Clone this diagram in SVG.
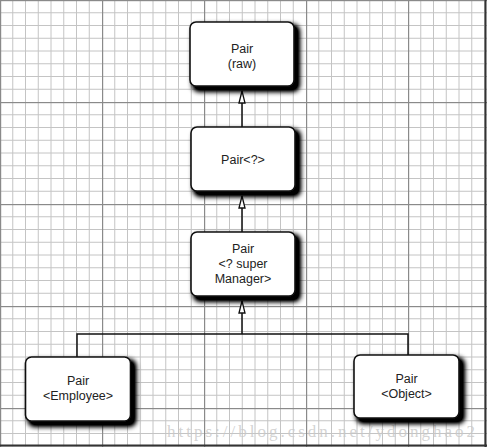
<svg xmlns="http://www.w3.org/2000/svg" width="487" height="447" viewBox="0 0 487 447">
  <style>
    .box { fill: #ffffff; stroke: #111111; stroke-width: 1.6; filter: url(#shadow); }
    .lbl { font-family: "Liberation Sans", Arial, sans-serif; font-size: 12.5px; fill: #222222; text-anchor: middle; }
    .conn { fill: none; stroke: #111111; stroke-width: 1.5; }
    .wm { font-family: "Liberation Serif", "Times New Roman", serif; font-size: 17px; fill: #c8c8c8; fill-opacity: 0.8; }
  </style>
  <defs>
    <pattern id="grid" patternUnits="userSpaceOnUse" x="0" y="0" width="102" height="102">
      <g stroke="#c4c4c4" stroke-width="1">
        <line x1="12.75" y1="0" x2="12.75" y2="102"/>
        <line x1="25.5" y1="0" x2="25.5" y2="102"/>
        <line x1="38.25" y1="0" x2="38.25" y2="102"/>
        <line x1="51" y1="0" x2="51" y2="102"/>
        <line x1="63.75" y1="0" x2="63.75" y2="102"/>
        <line x1="76.5" y1="0" x2="76.5" y2="102"/>
        <line x1="89.25" y1="0" x2="89.25" y2="102"/>
        <line x1="0" y1="12.75" x2="102" y2="12.75"/>
        <line x1="0" y1="25.5" x2="102" y2="25.5"/>
        <line x1="0" y1="38.25" x2="102" y2="38.25"/>
        <line x1="0" y1="51" x2="102" y2="51"/>
        <line x1="0" y1="63.75" x2="102" y2="63.75"/>
        <line x1="0" y1="76.5" x2="102" y2="76.5"/>
        <line x1="0" y1="89.25" x2="102" y2="89.25"/>
      </g>
      <rect x="0" y="0" width="1.2" height="102" fill="#8a8a8a"/>
      <rect x="0" y="0" width="102" height="1.2" fill="#8a8a8a"/>
    </pattern>
    <filter id="shadow" x="-20%" y="-20%" width="150%" height="150%">
      <feMorphology in="SourceAlpha" operator="dilate" radius="1" result="d"/>
      <feGaussianBlur in="d" stdDeviation="2.6"/>
      <feOffset dx="4" dy="4" result="b"/>
      <feComponentTransfer in="b" result="s"><feFuncA type="linear" slope="1.3"/></feComponentTransfer>
      <feMerge><feMergeNode in="s"/><feMergeNode in="SourceGraphic"/></feMerge>
    </filter>
    <marker id="tri" viewBox="0 0 14 8" refX="13" refY="4" markerWidth="14" markerHeight="8" markerUnits="userSpaceOnUse" orient="auto">
      <path d="M1,1 L13,4 L1,7 z" fill="#ffffff" stroke="#111111" stroke-width="1.3"/>
    </marker>
  </defs>

  <rect x="0" y="0" width="487" height="447" fill="#ffffff"/>
  <rect x="0" y="0" width="487" height="447" fill="url(#grid)"/>
  <line x1="485.5" y1="0" x2="485.5" y2="447" stroke="#333333" stroke-width="2"/>
  <line x1="0" y1="445.5" x2="487" y2="445.5" stroke="#333333" stroke-width="2"/>

  <text class="wm" x="167" y="437" textLength="308" lengthAdjust="spacing">https://blog.csdn.net/ydonghao2</text>

  <g id="connectors">
    <line class="conn" x1="242" y1="127" x2="242" y2="91" marker-end="url(#tri)"/>
    <line class="conn" x1="242" y1="232" x2="242" y2="196" marker-end="url(#tri)"/>
    <line class="conn" x1="242" y1="334" x2="242" y2="301" marker-end="url(#tri)"/>
    <polyline class="conn" points="77,357 77,334 408,334 408,355"/>
  </g>

  <g id="pair-raw">
    <rect class="box" x="190" y="22" width="104" height="64" rx="6"/>
    <text class="lbl" x="242" y="53">Pair</text>
    <text class="lbl" x="242" y="68">(raw)</text>
  </g>

  <g id="pair-wildcard">
    <rect class="box" x="191" y="127" width="104" height="64" rx="6"/>
    <text class="lbl" x="243" y="163.5">Pair&lt;?&gt;</text>
  </g>

  <g id="pair-super-manager">
    <rect class="box" x="191" y="232" width="104" height="64" rx="6"/>
    <text class="lbl" x="243" y="253">Pair</text>
    <text class="lbl" x="243" y="268">&lt;? super</text>
    <text class="lbl" x="243" y="283">Manager&gt;</text>
  </g>

  <g id="pair-employee">
    <rect class="box" x="25.5" y="357" width="105" height="64" rx="6"/>
    <text class="lbl" x="78" y="385">Pair</text>
    <text class="lbl" x="78" y="400">&lt;Employee&gt;</text>
  </g>

  <g id="pair-object">
    <rect class="box" x="354" y="355" width="105" height="63" rx="6"/>
    <text class="lbl" x="406.5" y="383">Pair</text>
    <text class="lbl" x="406.5" y="398">&lt;Object&gt;</text>
  </g>
</svg>
